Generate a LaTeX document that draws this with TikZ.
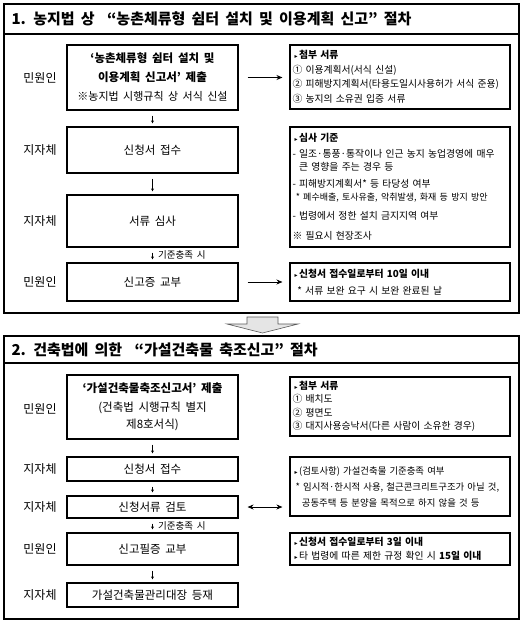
\documentclass[tikz,border=0pt]{standalone}
\usepackage{fontspec}
\setmainfont{Noto Sans CJK KR}[WordSpace=1.8]
\newfontfamily\symfont{DejaVu Sans}
\usetikzlibrary{arrows.meta}
\usetikzlibrary{positioning}

\newcommand{\tri}{\hspace*{2pt}{\symfont\fontsize{6}{6}\selectfont ▸}\,}

\tikzset{
  lbox/.style={draw, line width=1.1pt, minimum width=171pt, align=center, inner sep=0pt, font=\fontsize{11.5}{19}\selectfont},
  rbox/.style={draw, line width=1.1pt, text width=215pt, align=left, inner xsep=2.5pt, inner ysep=0pt, font=\fontsize{9.8}{14.5}\selectfont},
  who/.style={font=\fontsize{12}{14}\selectfont},
  flow/.style={line width=0.9pt, -{Stealth[length=6pt,width=5pt]}, shorten <=9pt, shorten >=7pt},
  down/.style={line width=0.6pt, -{Stealth[length=3pt,width=3pt]}, shorten <=5pt, shorten >=3pt},
  frame/.style={line width=1.1pt},
}

\begin{document}
\begin{tikzpicture}[x=1pt, y=-1pt]
  \useasboundingbox (0,0) rectangle (527,623);

  %section 1 frame
  \draw[frame] (4,4) rectangle (519,313);
  \draw[frame] (4,34) -- (519,34);
  \node[anchor=west, font=\fontsize{15}{16}\selectfont\bfseries] (title1) at (8,19)
    {1. 농지법 상 \ “농촌체류형 쉼터 설치 및 이용계획 신고” 절차};

  %left column
  \node[lbox, minimum height=65pt] (b1) at (152.5,77.5)
    {\textbf{‘농촌체류형 쉼터 설치 및}\\ \textbf{이용계획 신고서’ 제출}\\ {\fontsize{11}{17}\selectfont ※농지법 시행규칙 상 서식 신설}};
  \node[lbox, minimum height=46pt] (b2) at (152.5,150) {신청서 접수};
  \node[lbox, minimum height=52pt] (b3) at (152.5,221) {서류 심사};
  \node[lbox, minimum height=38pt] (b4) at (152.5,282) {신고증 교부};

  \node[who] (w1) at (40,78) {민원인};
  \node[who] (w2) at (40,150) {지자체};
  \node[who] (w3) at (40,221) {지자체};
  \node[who] (w4) at (40,282) {민원인};

  %right column
  \node[rbox, minimum height=64pt] (r1) at (400,77) {\tri\textbf{첨부 서류}\\
    ① 이용계획서(서식 신설)\\
    \mbox{② 피해방지계획서(타용도일시사용허가 서식 준용)}\\
    ③ 농지의 소유권 입증 서류};
  \node[rbox, minimum height=120pt, font=\fontsize{9.8}{13}\selectfont] (r2) at (400,187) {\tri\textbf{심사 기준}\\[3pt]
    \mbox{- 일조·통풍·통작이나 인근 농지 농업경영에 매우}\\
    \phantom{- }큰 영향을 주는 경우 등\\[4pt]
    - 피해방지계획서* 등 타당성 여부\\
    {\fontsize{9}{13}\selectfont\ * 폐수배출, 토사유출, 악취발생, 화재 등 방지 방안}\\[6pt]
    - 법령에서 정한 설치 금지지역 여부\\[7pt]
    ※ 필요시 현장조사};
  \node[rbox, minimum height=38pt, font=\fontsize{9.8}{17}\selectfont] (r3) at (400,282) {\tri\textbf{신청서 접수일로부터 10일 이내}\\
    \ \,* 서류 보완 요구 시 보완 완료된 날};

  \draw[flow] (b1.east) -- (r1.west |- b1.east);
  \draw[flow] (b4.east) -- (r3.west);
  \draw[down] (b1) -- (b2);
  \draw[down] (b2) -- (b3);
  \draw[down] (b3) -- (b4) node[midway, right=2pt, font=\fontsize{9.5}{11}\selectfont] (c1) {기준충족 시};

  %big arrow between sections
  \draw[fill=gray!20, draw=gray!70!black, line width=0.6pt]
    (247,317) -- (278,317) -- (278,324) -- (298,324) -- (262.5,333) -- (227,324) -- (247,324) -- cycle;

  %section 2 frame
  \draw[frame] (4,336) rectangle (519,619);
  \draw[frame] (4,363) -- (519,363);
  \node[anchor=west, font=\fontsize{15}{16}\selectfont\bfseries] (title2) at (8,350)
    {2. 건축법에 의한 \ “가설건축물 축조신고” 절차};

  \node[lbox, minimum height=64pt] (b5) at (152.5,407)
    {\textbf{‘가설건축물축조신고서’ 제출}\\ (건축법 시행규칙 별지\\[-2pt] 제8호서식)};
  \node[lbox, minimum height=24pt] (b6) at (152.5,469) {신청서 접수};
  \node[lbox, minimum height=22pt] (b7) at (152.5,507) {신청서류 검토};
  \node[lbox, minimum height=32pt] (b8) at (152.5,549) {신고필증 교부};
  \node[lbox, minimum height=24pt] (b9) at (152.5,595) {가설건축물관리대장 등재};

  \node[who] (w5) at (40,409) {민원인};
  \node[who] (w6) at (40,469) {지자체};
  \node[who] (w7) at (40,507) {지자체};
  \node[who] (w8) at (40,549) {민원인};
  \node[who] (w9) at (40,595) {지자체};

  \node[rbox, minimum height=59pt] (r4) at (400,406.5) {\tri\textbf{첨부 서류}\\[-1pt]
    ① 배치도\\[-1pt]
    ② 평면도\\[-1pt]
    ③ 대지사용승낙서(다른 사람이 소유한 경우)};
  \node[rbox, minimum height=59pt, font=\fontsize{9.4}{16}\selectfont] (r5) at (400,486.5) {\tri(검토사항) 가설건축물 기준충족 여부\\
    \mbox{\ * 임시적·한시적 사용, 철근콘크리트구조가 아닐 것,}\\
    \ \ \ 공동주택 등 분양을 목적으로 하지 않을 것 등};
  \node[rbox, minimum height=32pt] (r6) at (400,549) {\tri\textbf{신청서 접수일로부터 3일 이내}\\
    \tri 타 법령에 따른 제한 규정 확인 시 \textbf{15일 이내}};

  \draw[flow, {Stealth[length=6pt,width=5pt]}-{Stealth[length=6pt,width=5pt]}] (b7.east) -- (b7.east -| r5.west);
  \draw[down] (b5) -- (b6);
  \draw[down] (b6) -- (b7);
  \draw[down] (b7) -- (b8) node[midway, right=2pt, font=\fontsize{9.5}{11}\selectfont] (c2) {기준충족 시};
  \draw[down] (b8) -- (b9);
\end{tikzpicture}
\end{document}
